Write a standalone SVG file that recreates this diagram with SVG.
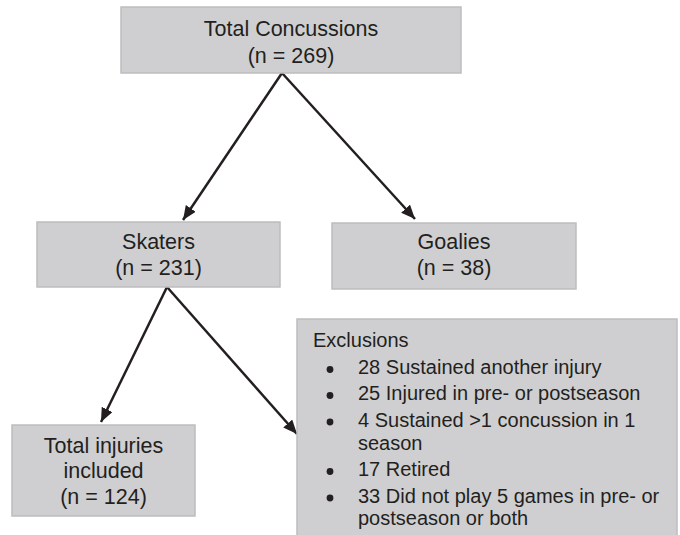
<svg xmlns="http://www.w3.org/2000/svg" width="680" height="535" viewBox="0 0 680 535">
<style>
.box{fill:#cfcfd1;stroke:#bdbdbf;stroke-width:1.5}
.t{font-family:"Liberation Sans",Arial,sans-serif;font-size:21.5px;fill:#231f20;text-anchor:middle}
.e{font-family:"Liberation Sans",Arial,sans-serif;font-size:20px;fill:#231f20}
.c{stroke:#231f20;stroke-width:2.5;fill:none}
</style>
<defs>
<marker id="ah" markerUnits="userSpaceOnUse" markerWidth="16" markerHeight="14" refX="14" refY="6" orient="auto">
<path d="M0,0 L14,6 L0,12 Z" fill="#231f20"/>
</marker>
</defs>
<rect width="680" height="535" fill="#ffffff"/>
<g id="connectors">
<line class="c" x1="282" y1="73" x2="183" y2="220" marker-end="url(#ah)"/>
<line class="c" x1="282" y1="73" x2="415" y2="219" marker-end="url(#ah)"/>
<line class="c" x1="167" y1="287" x2="101" y2="422" marker-end="url(#ah)"/>
<line class="c" x1="167" y1="287" x2="297" y2="434" marker-end="url(#ah)"/>
</g>
<g id="total">
<rect class="box" x="121" y="7" width="340" height="66"/>
<text class="t" x="291" y="36">Total Concussions</text>
<text class="t" x="291" y="63">(n = 269)</text>
</g>
<g id="skaters">
<rect class="box" x="37" y="222" width="243" height="65"/>
<text class="t" x="158.5" y="249">Skaters</text>
<text class="t" x="158.5" y="275">(n = 231)</text>
</g>
<g id="goalies">
<rect class="box" x="332" y="223" width="244" height="66"/>
<text class="t" x="454" y="249">Goalies</text>
<text class="t" x="454" y="275">(n = 38)</text>
</g>
<g id="included">
<rect class="box" x="12" y="425" width="183" height="91"/>
<text class="t" x="103.5" y="453">Total injuries</text>
<text class="t" x="103.5" y="478">included</text>
<text class="t" x="103.5" y="504">(n = 124)</text>
</g>
<g id="exclusions">
<rect class="box" x="297" y="319" width="380" height="220"/>
<text class="e" x="313" y="347">Exclusions</text>
<g fill="#231f20">
<circle cx="330" cy="369.5" r="3.4"/>
<circle cx="330" cy="395.5" r="3.4"/>
<circle cx="330" cy="422" r="3.4"/>
<circle cx="330" cy="471.5" r="3.4"/>
<circle cx="330" cy="498" r="3.4"/>
</g>
<text class="e" x="358" y="374">28 Sustained another injury</text>
<text class="e" x="358" y="400">25 Injured in pre- or postseason</text>
<text class="e" x="358" y="427">4 Sustained &gt;1 concussion in 1</text>
<text class="e" x="358" y="450">season</text>
<text class="e" x="358" y="476">17 Retired</text>
<text class="e" x="358" y="503">33 Did not play 5 games in pre- or</text>
<text class="e" x="358" y="525">postseason or both</text>
</g>
</svg>
